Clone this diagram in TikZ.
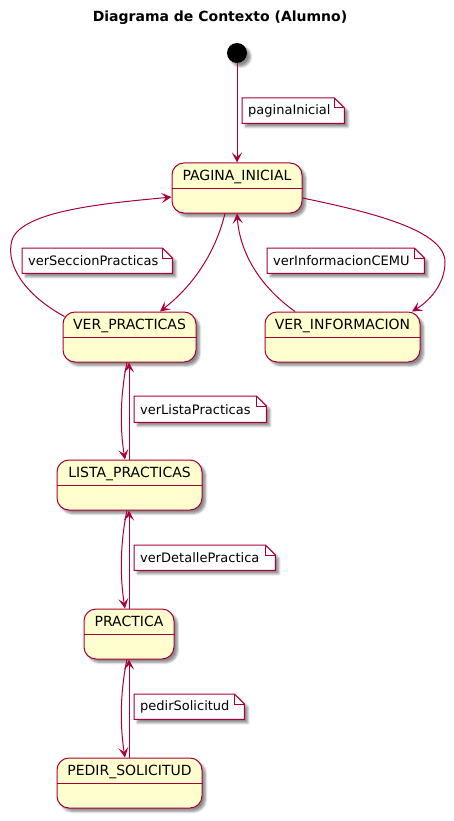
\documentclass[tikz,border=0pt]{standalone}
\usepackage{fontspec}
\setmainfont{DejaVu Sans}
\usetikzlibrary{arrows.meta,shadows.blur,calc}
\definecolor{umlred}{HTML}{A80036}
\definecolor{umlfill}{HTML}{FEFECE}
\pgfdeclarelayer{bg}
\pgfsetlayers{bg,main}
\tikzset{
  umlshadow/.style={blur shadow={shadow xshift=3.5pt, shadow yshift=-3.5pt, shadow opacity=45, shadow blur steps=6}},
  state/.style={draw=umlred, fill=umlfill, line width=1pt, rounded corners=12pt,
    minimum height=50pt, inner ysep=5pt, text height=12pt, text depth=28pt,
    font=\fontsize{14}{16}\selectfont, umlshadow},
  note/.style={inner xsep=6pt, inner ysep=0pt, minimum height=25pt, align=left,
    anchor=north west, font=\fontsize{13}{15}\selectfont},
  notebox/.style={draw=umlred, fill=white, line width=1pt, umlshadow},
  trans/.style={draw=umlred, line width=1pt, -{Stealth[length=10pt,width=10pt,inset=4.5pt]}},
  divider/.style={draw=umlred, line width=1pt},
}
\begin{document}
\begin{tikzpicture}[x=1pt,y=-1pt]
\useasboundingbox (0,0) rectangle (454,821);
% title
\node[font=\fontsize{14}{16}\selectfont\bfseries] (title) at (220,18) {Diagrama de Contexto (Alumno)};
% initial state
\node[circle, fill=black, minimum size=20pt, inner sep=0pt, umlshadow] (init) at (237,53) {};
% states
\node[state, minimum width=130pt] (pi) at (237,188) {PAGINA\_INICIAL};
\node[state, minimum width=133pt] (vp) at (129.5,337) {VER\_PRACTICAS};
\node[state, minimum width=155pt] (vi) at (342.5,337) {VER\_INFORMACION};
\node[state, minimum width=145pt] (lp) at (129.5,485) {LISTA\_PRACTICAS};
\node[state, minimum width=90pt] (pr) at (129,634) {PRACTICA};
\node[state, minimum width=145pt] (ps) at (129.5,783) {PEDIR\_SOLICITUD};
\foreach \s in {pi,vp,vi,lp,pr,ps} \draw[divider] (\s.west) -- (\s.east);
% notes
\node[note, text width=90pt] (n1) at (242,98) {paginaInicial};
\node[note, text width=138pt] (n2) at (22,248) {verSeccionPracticas};
\node[note, text width=145pt] (n3) at (267,248) {verInformacionCEMU};
\node[note, text width=120pt, minimum height=26pt] (n4) at (134,396) {verListaPracticas};
\node[note, text width=129pt] (n5) at (134,545) {verDetallePractica};
\node[note, text width=98pt] (n6) at (134,694) {pedirSolicitud};
\begin{pgfonlayer}{bg}
\foreach \n in {n1,n2,n3,n4,n5,n6} {
  \path[notebox] (\n.north west) -- ([xshift=-10pt]\n.north east) -- ([yshift=-10pt]\n.north east)
     -- (\n.south east) -- (\n.south west) -- cycle;
  \draw[divider] ([xshift=-10pt]\n.north east) -- ([xshift=-10pt,yshift=-10pt]\n.north east)
     -- ([yshift=-10pt]\n.north east);
}
\end{pgfonlayer}
% transitions
\draw[trans] (init) -- (pi);
\draw[trans] ([xshift=-12pt]pi.south) .. controls (213,262) and (185,292) .. ([xshift=30.5pt]vp.north);
\draw[trans] ([xshift=2pt,yshift=-5pt]vp.north west) .. controls (25,295) and (5,265) .. (12,240)
   .. controls (22,210) and (110,203) .. ([yshift=-9pt]pi.west);
\draw[trans] ([yshift=-10pt]pi.east) .. controls (370,212) and (445,230) .. (445,262)
   .. controls (445,285) and (428,302) .. ([xshift=69.5pt]vi.north);
\draw[trans] ([xshift=-47.5pt]vi.north) .. controls (262,288) and (240,255) .. (pi.south);
\draw[trans] ([xshift=-2.5pt]vp.south) .. controls (120,395) and (120,430) .. ([xshift=-4.5pt]lp.north);
\draw[trans] ([xshift=-0.5pt]lp.north) -- ([xshift=-0.5pt]vp.south);
\draw[trans] ([xshift=-2.5pt]lp.south) .. controls (120,543) and (120,578) .. ([xshift=-4pt]pr.north);
\draw[trans] (pr.north) -- (pr.north |- lp.south);
\draw[trans] ([xshift=-2pt]pr.south) .. controls (120,692) and (120,727) .. ([xshift=-4.5pt]ps.north);
\draw[trans] ([xshift=-0.5pt]ps.north) -- ([xshift=-0.5pt]ps.north |- pr.south);
\end{tikzpicture}
\end{document}
